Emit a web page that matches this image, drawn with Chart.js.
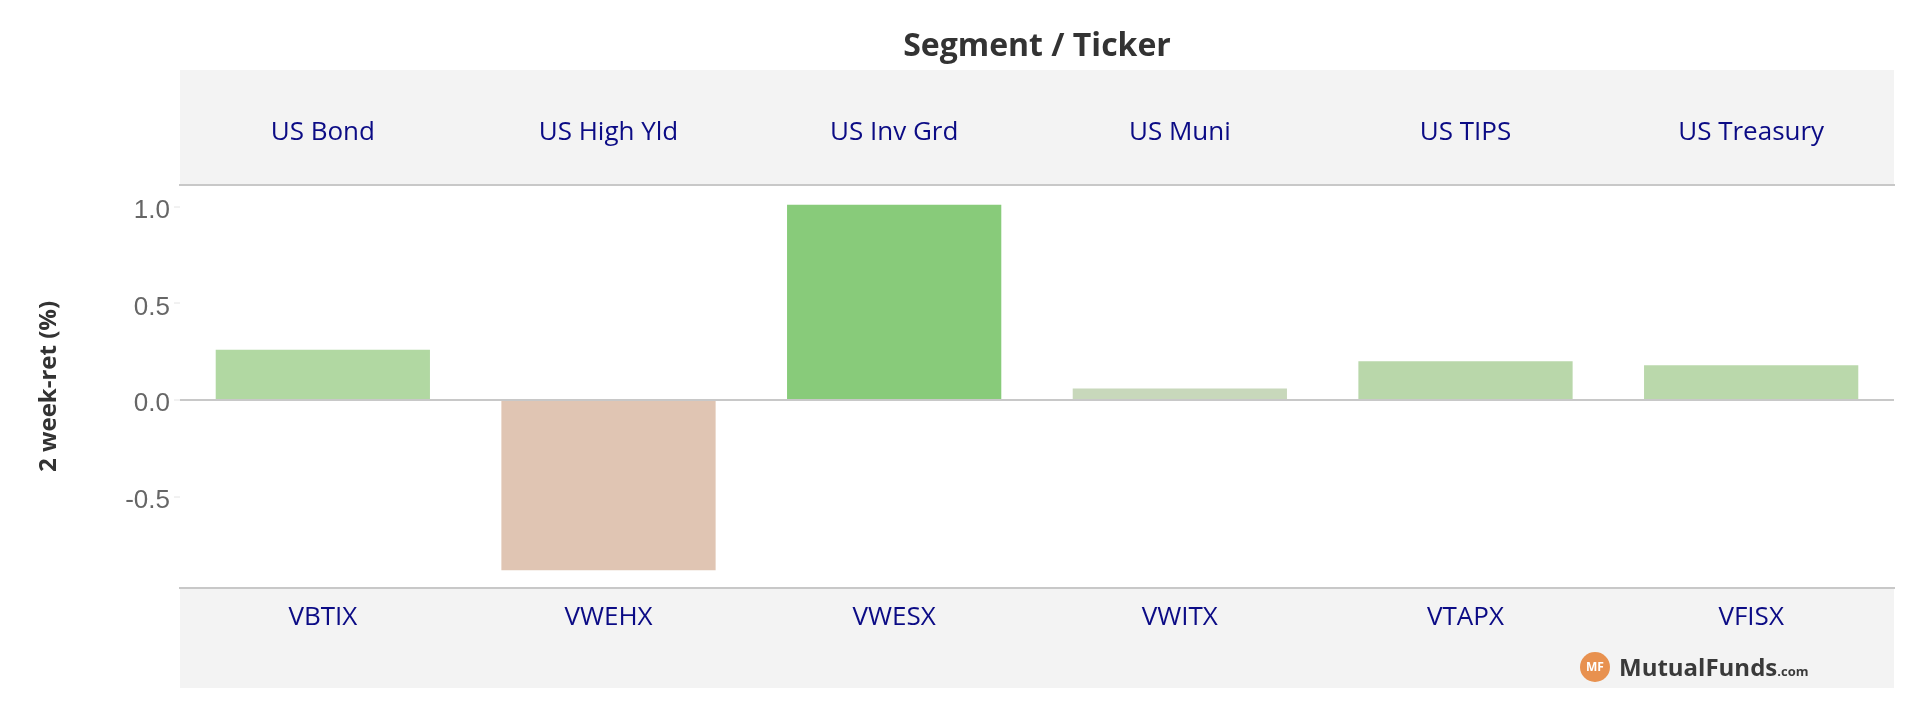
<!DOCTYPE html>
<html>
<head>
<meta charset="utf-8">
<script src="https://cdn.jsdelivr.net/npm/chart.js@4.4.0/dist/chart.umd.min.js"></script>
<style>
  html, body { margin: 0; padding: 0; background: #fff; }
  #wrap { width: 1909px; height: 704px; position: relative; }
</style>
</head>
<body>
<div id="wrap"><canvas id="chart"></canvas></div>
<script>
// Chart data
const segments = ['US Bond', 'US High Yld', 'US Inv Grd', 'US Muni', 'US TIPS', 'US Treasury'];
const tickers = ['VBTIX', 'VWEHX', 'VWESX', 'VWITX', 'VTAPX', 'VFISX'];
const returns = [0.26, -0.88, 1.01, 0.06, 0.20, 0.18];
const barColors = ['#b1d8a2', '#e0c5b3', '#88cb7a', '#c8d8bb', '#b9d7aa', '#bad8ab'];

const headerColor = '#0b0b85';
const bandColor = '#f3f3f3';
const lineColor = '#c8c8c8';

// header / footer bands and the logo
const bandsPlugin = {
  id: 'bands',
  beforeDraw(chart) {
    const ctx = chart.ctx;
    const a = chart.chartArea;
    ctx.save();
    ctx.fillStyle = '#fff';
    ctx.fillRect(0, 0, chart.width, chart.height);
    ctx.fillStyle = bandColor;
    const top = chart.scales.x2;
    const bottom = chart.scales.x;
    ctx.fillRect(a.left, top.top, a.right - a.left, top.bottom - top.top);
    ctx.fillRect(a.left, bottom.top, a.right - a.left, bottom.bottom - bottom.top);
    ctx.restore();
  },
  afterDraw(chart) {
    const ctx = chart.ctx;
    const a = chart.chartArea;
    const cx = a.right - 299;
    const cy = 667;
    ctx.save();
    ctx.fillStyle = '#e8914f';
    ctx.beginPath();
    ctx.arc(cx, cy, 15, 0, Math.PI * 2);
    ctx.fill();
    ctx.fillStyle = '#fff';
    ctx.font = 'bold 12px "Open Sans"';
    ctx.textAlign = 'center';
    ctx.textBaseline = 'middle';
    ctx.fillText('MF', cx, cy + 1);
    ctx.fillStyle = '#3a3a3a';
    ctx.textAlign = 'left';
    ctx.textBaseline = 'alphabetic';
    ctx.font = 'bold 24px "Open Sans"';
    ctx.fillText('MutualFunds', cx + 24, cy + 9);
    const w = ctx.measureText('MutualFunds').width;
    ctx.font = 'bold 13px "Open Sans"';
    ctx.fillText('.com', cx + 24 + w, cy + 9);
    ctx.restore();
  }
};

new Chart(document.getElementById('chart'), {
  type: 'bar',
  data: {
    labels: tickers,
    datasets: [
      {
        label: '2 week-ret (%)',
        data: returns,
        backgroundColor: barColors,
        categoryPercentage: 0.75,
        barPercentage: 1.0,
        xAxisID: 'x',
        yAxisID: 'y',
      },
    ],
  },
  options: {
    responsive: true,
    maintainAspectRatio: false,
    animation: false,
    layout: {
      padding: { left: 0, right: 15, top: 0, bottom: 16 },
    },
    plugins: {
      legend: { display: false },
      tooltip: { enabled: false },
      title: {
        display: true,
        text: 'Segment / Ticker',
        fullSize: false,
        color: '#333',
        font: { family: 'Open Sans', size: 32, weight: 'bold', lineHeight: 1.2 },
        padding: { top: 28, bottom: 3.6 },
      },
    },
    scales: {
      x: {
        type: 'category',
        position: 'bottom',
        offset: true,
        grid: { display: false },
        border: { display: true, color: lineColor, width: 2 },
        ticks: {
          color: headerColor,
          font: { family: 'Open Sans', size: 26 },
          padding: 6,
          maxRotation: 0,
        },
        afterFit: (scale) => { scale.height = 100; },
      },
      x2: {
        type: 'category',
        position: 'top',
        labels: segments,
        offset: true,
        grid: { display: false },
        border: { display: true, color: lineColor, width: 2 },
        ticks: {
          color: headerColor,
          font: { family: 'Open Sans', size: 26 },
          padding: 29,
          maxRotation: 0,
        },
        afterFit: (scale) => { scale.height = 115; },
      },
      y: {
        min: -0.972,
        max: 1.112,
        border: { display: false },
        grid: {
          color: (c) => (c.tick && c.tick.value === 0 ? lineColor : 'transparent'),
          lineWidth: 2,
          tickColor: '#e4e4e4',
          tickLength: 6,
          tickWidth: 1,
        },
        ticks: {
          stepSize: 0.5,
          includeBounds: false,
          color: '#666',
          padding: 4,
          labelOffset: 4,
          font: { family: 'Liberation Sans', size: 26 },
          callback: (v) => v.toFixed(1),
        },
        title: {
          display: true,
          text: '2 week-ret (%)',
          color: '#333',
          font: { family: 'Open Sans', size: 24, weight: 'bold' },
          padding: { top: 35, bottom: 0 },
        },
        afterFit: (scale) => { scale.width = 180; },
      },
    },
  },
  plugins: [bandsPlugin],
});
</script>
</body>
</html>
